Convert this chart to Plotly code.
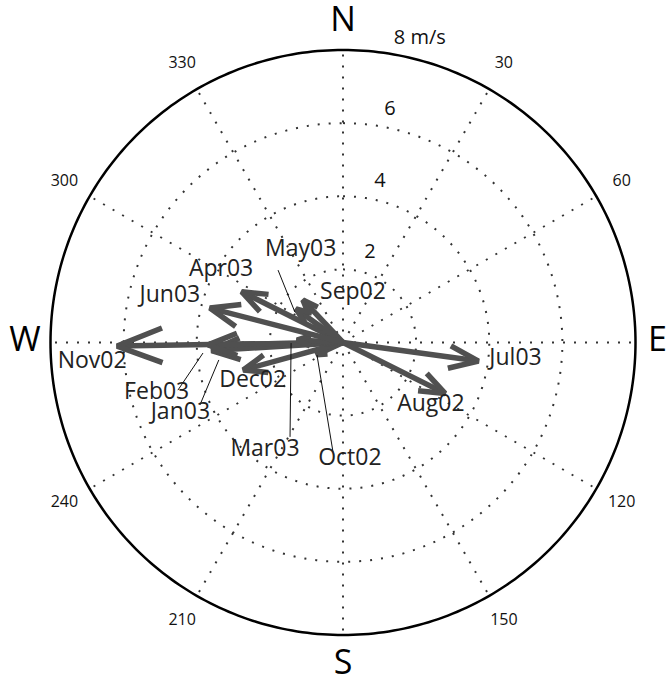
import numpy as np
import plotly.graph_objects as go

# ---- data ----
months = ["Aug02", "Sep02", "Oct02", "Nov02", "Dec02", "Jan03",
          "Feb03", "Mar03", "Apr03", "May03", "Jun03", "Jul03"]
speed = [3.12, 1.60, 0.80, 6.18, 2.83, 3.60, 3.69, 1.26, 3.10, 1.58, 3.76, 3.74]   # m/s
direction = [116.5, 316.7, 245.0, 269.1, 254.6, 266.5, 269.0, 273.0, 296.6, 305.5, 284.5, 97.8]  # deg (toward)

# label placement (polar r, theta)
label_r = [2.95, 1.37, 3.19, 6.88, 2.69, 4.85, 5.28, 3.63, 3.87, 2.77, 4.90, 4.74]
label_t = [125.4, 11.5, 176.6, 265.6, 246.7, 246.5, 254.8, 216.0, 300.5, 335.3, 284.9, 95.4]

# leader lines: (month, start r, start theta, end r, end theta)
leaders = [
    ("May03", 2.66, 318.1, 1.56, 302.4),
    ("Feb03", 4.70, 253.9, 3.84, 265.7),
    ("Jan03", 4.27, 246.4, 3.43, 262.0),
    ("Mar03", 2.96, 209.3, 1.42, 269.4),
    ("Oct02", 3.01, 185.2, 0.79, 244.3),
]

ring_vals = [2, 4, 6]
outer_r = 8
spoke_vals = list(range(0, 360, 30))
ring_text = ["2", "4", "6", "8 m/s"]
ring_lab_r = [2.56, 4.5, 6.5, 8.57]
ring_lab_t = [16.8, 13.0, 11.4, 14.2]

angle_vals = [30, 60, 120, 150, 210, 240, 300, 330]
angle_text = ["30", "60", "120", "150", "210", "240", "300", "330"]
compass_vals = [0, 90, 180, 270]
compass_text = ["N", "E", "S", "W"]
compass_r = [8.75, 8.6, 8.83, 8.7]

ARROW = "#505050"
GRID = "#333"
DOTS = "2px,9px"
fig = go.Figure()

circ = np.linspace(0, 360, 361)
# dotted rings
for rv in ring_vals:
    fig.add_trace(go.Scatterpolar(r=[rv] * len(circ), theta=circ, mode="lines",
                                  line=dict(color=GRID, width=2, dash=DOTS),
                                  hoverinfo="skip", showlegend=False))
# dotted spokes
for sv in spoke_vals:
    fig.add_trace(go.Scatterpolar(r=[0, outer_r], theta=[sv, sv], mode="lines",
                                  line=dict(color=GRID, width=2, dash=DOTS),
                                  hoverinfo="skip", showlegend=False))
# outer circle
fig.add_trace(go.Scatterpolar(r=[outer_r] * len(circ), theta=circ, mode="lines",
                              line=dict(color="black", width=2.5),
                              hoverinfo="skip", showlegend=False))

# arrows
for m, L, th in zip(months, speed, direction):
    t = np.radians(th)
    tx, ty = L * np.sin(t), L * np.cos(t)
    bl = 0.19 * L + 0.15
    ux, uy = -np.sin(t), -np.cos(t)
    rs, ts = [0, L, None], [0, th, None]
    for sgn in (1, -1):
        a = np.radians(21 * sgn)
        vx = ux * np.cos(a) - uy * np.sin(a)
        vy = ux * np.sin(a) + uy * np.cos(a)
        bx, by = tx + bl * vx, ty + bl * vy
        rs.append(float(np.hypot(bx, by)))
        ts.append(float(np.degrees(np.arctan2(bx, by)) % 360))
        if sgn == 1:
            rs.append(L)
            ts.append(th)
    fig.add_trace(go.Scatterpolar(r=rs, theta=ts, mode="lines",
                                  line=dict(color=ARROW, width=5.5),
                                  hoverinfo="skip", showlegend=False))

# leader lines
for m, r0, t0, r1, t1 in leaders:
    fig.add_trace(go.Scatterpolar(r=[r0, r1], theta=[t0, t1], mode="lines",
                                  line=dict(color="#111", width=1),
                                  hoverinfo="skip", showlegend=False))

# month labels
fig.add_trace(go.Scatterpolar(r=label_r, theta=label_t, text=months, mode="text",
                              textfont=dict(family="Open Sans", size=23, color="#222"),
                              cliponaxis=False, showlegend=False, hoverinfo="skip"))
# ring labels
fig.add_trace(go.Scatterpolar(r=ring_lab_r, theta=ring_lab_t, text=ring_text, mode="text",
                              textfont=dict(family="Open Sans", size=20, color="#111"),
                              cliponaxis=False, showlegend=False, hoverinfo="skip"))
# angle labels
fig.add_trace(go.Scatterpolar(r=[8.8] * len(angle_vals), theta=angle_vals, text=angle_text,
                              mode="text",
                              textfont=dict(family="Open Sans", size=16, color="#111"),
                              cliponaxis=False, showlegend=False, hoverinfo="skip"))
# compass labels
fig.add_trace(go.Scatterpolar(r=compass_r, theta=compass_vals, text=compass_text,
                              mode="text",
                              textfont=dict(family="Open Sans", size=34, color="#000"),
                              cliponaxis=False, showlegend=False, hoverinfo="skip"))

W, H = 670, 685
RMAX = 8.9
cx, cy = 343, 342.5
rad = 292.5 * RMAX / 8
fig.update_layout(
    width=W, height=H,
    margin=dict(l=0, r=0, t=0, b=0),
    paper_bgcolor="white",
    showlegend=False,
    polar=dict(
        domain=dict(x=[(cx - rad) / W, (cx + rad) / W],
                    y=[(H - cy - rad) / H, (H - cy + rad) / H]),
        bgcolor="white",
        radialaxis=dict(range=[0, RMAX], showticklabels=False, ticks="",
                        showline=False, showgrid=False),
        angularaxis=dict(rotation=90, direction="clockwise",
                         showticklabels=False, ticks="", showline=False,
                         showgrid=False),
    ),
)

# remove the browser's default 8px page margin so the figure fills the window
fig.write_html("out.html", config={"displayModeBar": False},
               post_script="document.body.style.margin='0';")
